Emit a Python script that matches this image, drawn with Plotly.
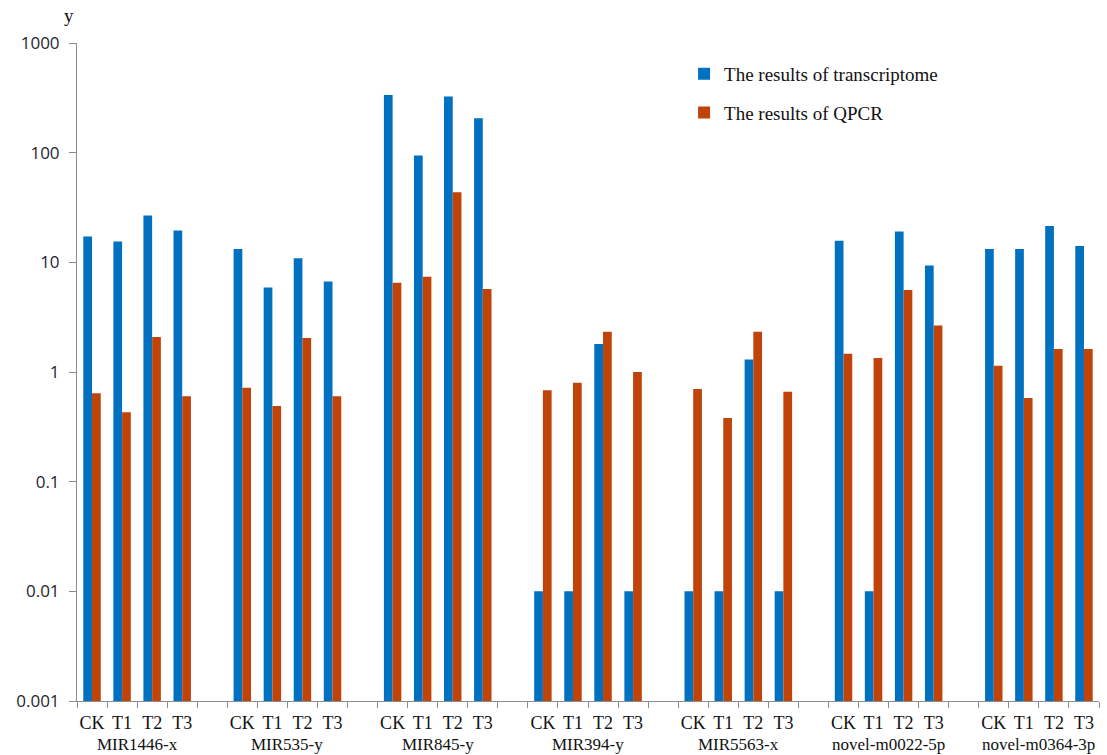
import plotly.graph_objects as go

# miRNA groups and treatments
groups = ["MIR1446-x", "MIR535-y", "MIR845-y", "MIR394-y",
          "MIR5563-x", "novel-m0022-5p", "novel-m0364-3p"]
treatments = ["CK", "T1", "T2", "T3"]

# relative expression from the transcriptome data (CK, T1, T2, T3 per group)
transcriptome = [
    [17.2, 15.5, 26.7, 19.5],
    [13.2, 5.9, 10.9, 6.7],
    [336, 94, 325, 206],
    [0.01, 0.01, 1.80, 0.01],
    [0.01, 0.01, 1.30, 0.01],
    [15.7, 0.01, 19.1, 9.35],
    [13.2, 13.2, 21.5, 14.1],
]

# relative expression measured by qPCR
qpcr = [
    [0.64, 0.43, 2.09, 0.60],
    [0.72, 0.49, 2.04, 0.60],
    [6.5, 7.4, 43.6, 5.7],
    [0.68, 0.80, 2.33, 1.00],
    [0.70, 0.38, 2.33, 0.66],
    [1.47, 1.34, 5.58, 2.65],
    [1.14, 0.58, 1.62, 1.62],
]

y_tick_vals = [0.001, 0.01, 0.1, 1, 10, 100, 1000]
y_tick_text = ["0.001", "0.01", "0.1", "1", "10", "100", "1000"]

BLUE = "#0070C0"
ORANGE = "#C04309"
AXIS = "#8C8C8C"
SERIF = "Liberation Serif, Times New Roman, serif"

# each group takes four slots followed by one empty slot
slot = len(treatments) + 1
xs, tick_vals, tick_text = [], [], []
for g in range(len(groups)):
    for j, t in enumerate(treatments):
        xs.append(g * slot + j)
        tick_vals.append(g * slot + j)
        tick_text.append(t)
n_slots = len(groups) * slot - 1

flat_tr = [v for row in transcriptome for v in row]
flat_q = [v for row in qpcr for v in row]

fig = go.Figure()
fig.add_trace(go.Bar(x=xs, y=flat_tr, name="The results of transcriptome",
                     marker=dict(color=BLUE, line=dict(width=0)),
                     legendgroup="a"))
fig.add_trace(go.Bar(x=xs, y=flat_q, name="The results of QPCR",
                     marker=dict(color=ORANGE, line=dict(width=0)),
                     legendgroup="b"))

# group names beneath the treatment labels
for g, name in enumerate(groups):
    fig.add_annotation(x=g * slot + 1.5, y=0, xref="x", yref="paper",
                       yanchor="bottom", yshift=-54, text=name,
                       showarrow=False, borderpad=0,
                       font=dict(family=SERIF, size=17, color="#111111"))

# axis title "y" above the axis
fig.add_annotation(x=0, y=1, xref="paper", yref="paper", xanchor="right",
                   yanchor="bottom", xshift=-1, yshift=15, text="y",
                   showarrow=False,
                   font=dict(family=SERIF, size=19, color="#111111"))

fig.update_layout(
    width=1107, height=755,
    margin=dict(l=77, r=8, t=43, b=54),
    paper_bgcolor="white", plot_bgcolor="white",
    barmode="group", bargap=0.42, bargroupgap=0,
    showlegend=True,
    legend=dict(x=0.594, y=0.982, xanchor="left", yanchor="top",
                bgcolor="rgba(0,0,0,0)", tracegroupgap=11,
                font=dict(family=SERIF, size=19, color="#111111")),
    xaxis=dict(range=[-0.5, n_slots - 0.5], tickmode="array",
               tickvals=tick_vals, ticktext=tick_text, ticks="",
               ticklabelstandoff=5,
               showline=True, linecolor=AXIS, linewidth=1,
               showgrid=False, zeroline=False,
               tickfont=dict(family=SERIF, size=18, color="#111111"),
               minor=dict(tick0=-0.5, dtick=1, ticks="outside",
                          ticklen=6, tickcolor=AXIS, tickwidth=1,
                          showgrid=False)),
    yaxis=dict(type="log", range=[-3, 3], tickmode="array",
               tickvals=y_tick_vals, ticktext=y_tick_text,
               ticks="outside", ticklen=7, tickcolor=AXIS,
               ticklabelstandoff=6,
               showline=True, linecolor=AXIS, linewidth=1,
               showgrid=False, zeroline=False,
               tickfont=dict(family="Open Sans, sans-serif", size=17,
                             color="#1E2433")),
)

fig.write_html("out.html")
